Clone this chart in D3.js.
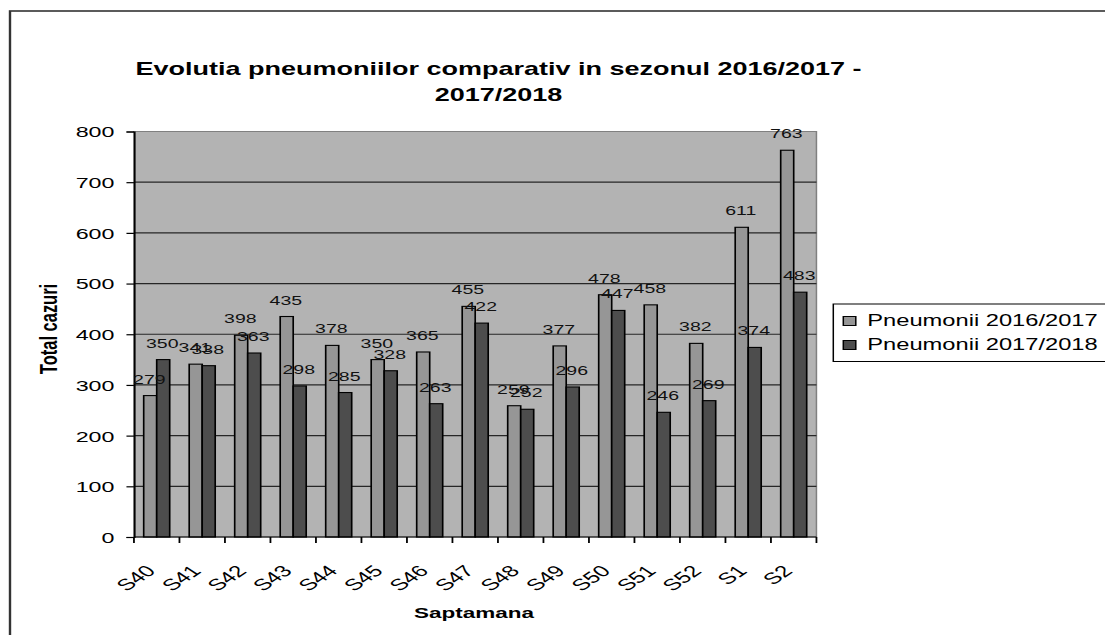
<!DOCTYPE html>
<html>
<head>
<meta charset="utf-8">
<script src="https://cdn.jsdelivr.net/npm/d3@7"></script>
<style>
  body { margin: 0; background: #fff; }
  text { font-family: 'Liberation Sans', Arial, sans-serif; }
</style>
</head>
<body>
<svg id="chart" width="1105" height="635"></svg>
<script>
const weeks = ['S40', 'S41', 'S42', 'S43', 'S44', 'S45', 'S46', 'S47', 'S48', 'S49', 'S50', 'S51', 'S52', 'S1', 'S2'];
const season1617 = [279, 341, 398, 435, 378, 350, 365, 455, 259, 377, 478, 458, 382, 611, 763];
const season1718 = [350, 338, 363, 298, 285, 328, 263, 422, 252, 296, 447, 246, 269, 374, 483];
const seriesNames = ['Pneumonii 2016/2017', 'Pneumonii 2017/2018'];
const yTicks = [0, 100, 200, 300, 400, 500, 600, 700, 800];

// the original picture is stretched sideways, so draw in a narrow frame and scale it
const sx = 1.5;
const margin = {left: 89.3, right: 544.3, top: 131.5, bottom: 537};
const colors = ['#969696', '#4d4d4d'];

const svg = d3.select('#chart');
const g = svg.append('g').attr('transform', `scale(${sx},1)`);

// outer chart border (runs off the right and bottom of the page)
g.append('rect')
    .attr('x', 10 / sx).attr('y', 11)
    .attr('width', 1200).attr('height', 800)
    .attr('fill', 'none')
    .attr('stroke', '#333')
    .attr('stroke-width', 1.6);

const x = d3.scaleBand()
    .domain(weeks)
    .range([margin.left, margin.right]);

const x1 = d3.scaleBand()
    .domain(seriesNames)
    .range([0, x.bandwidth()])
    .paddingOuter(0.75);

const y = d3.scaleLinear()
    .domain([0, 800])
    .range([margin.bottom, margin.top]);

// plot area
g.append('rect')
    .attr('x', margin.left).attr('y', margin.top)
    .attr('width', margin.right - margin.left)
    .attr('height', margin.bottom - margin.top)
    .attr('fill', '#b3b3b3')
    .attr('stroke', '#808080')
    .attr('stroke-width', 1);

g.append('g')
    .selectAll('line')
    .data(yTicks.filter((d) => d > 0 && d < 800))
    .enter()
    .append('line')
    .attr('x1', margin.left).attr('x2', margin.right)
    .attr('y1', (d) => y(d)).attr('y2', (d) => y(d))
    .attr('stroke', '#262626')
    .attr('stroke-width', 1.2);

// y axis
const yAxis = g.append('g')
    .attr('transform', `translate(${margin.left},0)`)
    .call(d3.axisLeft(y).tickValues(yTicks).tickSize(5).tickPadding(8));
yAxis.select('.domain').attr('stroke', '#000').attr('stroke-width', 1.2);
yAxis.selectAll('.tick line').attr('stroke', '#000').attr('stroke-width', 1.2);
yAxis.selectAll('.tick text')
    .attr('font-size', 15.5)
    .attr('font-family', 'Liberation Sans, Arial, sans-serif')
    .attr('fill', '#000')
    .attr('dy', '0.35em');

// bars
const series = [season1617, season1718];
const groups = g.append('g')
    .selectAll('g')
    .data(weeks)
    .enter()
    .append('g')
    .attr('transform', (d) => `translate(${x(d)},0)`);

groups.selectAll('rect')
    .data((d, i) => seriesNames.map((name, k) => ({name: name, value: series[k][i], k: k})))
    .enter()
    .append('rect')
    .attr('x', (d) => x1(d.name))
    .attr('y', (d) => y(d.value))
    .attr('width', x1.bandwidth())
    .attr('height', (d) => y(0) - y(d.value))
    .attr('fill', (d) => colors[d.k])
    .attr('stroke', '#000')
    .attr('stroke-width', 1.1);

groups.selectAll('text')
    .data((d, i) => seriesNames.map((name, k) => ({name: name, value: series[k][i]})))
    .enter()
    .append('text')
    .attr('x', (d) => x1(d.name) + x1.bandwidth() / 2 - 0.6)
    .attr('y', (d) => y(d.value) - 12)
    .attr('text-anchor', 'middle')
    .attr('font-size', 13)
    .attr('fill', '#111')
    .text((d) => d.value);

// x axis line, ticks at category boundaries
g.append('line')
    .attr('x1', margin.left).attr('x2', margin.right)
    .attr('y1', margin.bottom).attr('y2', margin.bottom)
    .attr('stroke', '#000').attr('stroke-width', 1.2);

g.append('g')
    .selectAll('line')
    .data(weeks.map((d) => x(d)).concat([x(weeks[weeks.length - 1]) + x.bandwidth()]))
    .enter()
    .append('line')
    .attr('x1', (d) => d).attr('x2', (d) => d)
    .attr('y1', margin.bottom).attr('y2', margin.bottom + 6)
    .attr('stroke', '#000').attr('stroke-width', 1.2);

g.append('g')
    .selectAll('text')
    .data(weeks)
    .enter()
    .append('text')
    .attr('transform', (d) => `translate(${x(d) + x.bandwidth() / 2},572) rotate(-45)`)
    .attr('text-anchor', 'end')
    .attr('font-size', 16)
    .attr('fill', '#000')
    .text((d) => d);

// titles
const title = g.append('text')
    .attr('text-anchor', 'middle')
    .attr('font-size', 18)
    .attr('font-weight', 'bold');
title.append('tspan').attr('x', 498.5 / sx).attr('y', 75)
    .text('Evolutia pneumoniilor comparativ in sezonul 2016/2017 -');
title.append('tspan').attr('x', 498.5 / sx).attr('y', 101)
    .text('2017/2018');

g.append('text')
    .attr('x', 474 / sx).attr('y', 618)
    .attr('text-anchor', 'middle')
    .attr('font-size', 15)
    .attr('font-weight', 'bold')
    .text('Saptamana');

g.append('text')
    .attr('transform', `translate(${56.5 / sx},329) rotate(-90)`)
    .attr('text-anchor', 'middle')
    .attr('font-size', 16.5)
    .attr('font-weight', 'bold')
    .text('Total cazuri');

// legend
const legend = g.append('g').attr('transform', `translate(${833.3 / sx},304)`);
legend.append('rect')
    .attr('width', 400).attr('height', 57.5)
    .attr('fill', '#fff')
    .attr('stroke', '#000')
    .attr('stroke-width', 1);

const items = legend.selectAll('g.item')
    .data(seriesNames)
    .enter()
    .append('g')
    .attr('class', 'item')
    .attr('transform', (d, i) => `translate(0,${12.5 + i * 24})`);

items.append('rect')
    .attr('x', 10 / sx).attr('y', 0)
    .attr('width', 12.5 / sx).attr('height', 9)
    .attr('fill', (d, i) => colors[i])
    .attr('stroke', '#000')
    .attr('stroke-width', 1);

items.append('text')
    .attr('x', 34 / sx).attr('y', 9.5)
    .attr('font-size', 15.8)
    .attr('fill', '#000')
    .text((d) => d);
</script>
</body>
</html>
